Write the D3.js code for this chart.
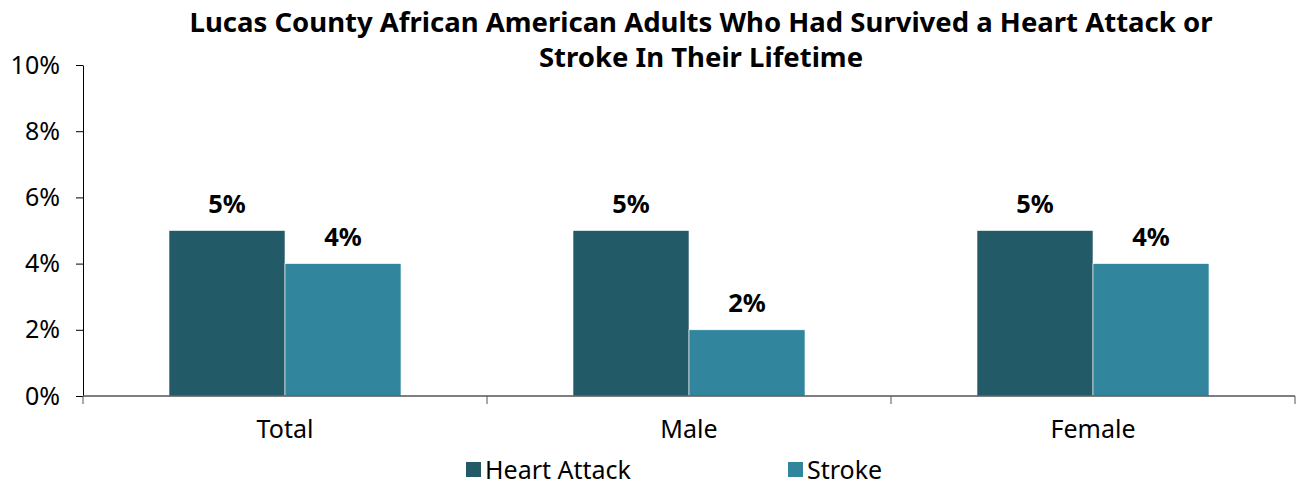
<!DOCTYPE html>
<html><head><meta charset="utf-8">
<script src="https://cdn.jsdelivr.net/npm/d3@7"></script>
<style>body{margin:0;background:#fff;} text{font-family:"Noto Sans","Open Sans",sans-serif;}</style>
</head><body><svg id="c" width="1296" height="485"></svg>
<script>
const categories = ["Total", "Male", "Female"];
const seriesNames = ["Heart Attack", "Stroke"];
const heartAttack = [5, 5, 5];
const stroke = [4, 2, 4];
const yTicks = [0, 2, 4, 6, 8, 10];
const titleLines = ["Lucas County African American Adults Who Had Survived a Heart Attack or", "Stroke In Their Lifetime"];
const colors = ["#235A68", "#31869E"];

const svg = d3.select("#c");
const m = {left: 83, right: 1295, top: 65, bottom: 396};
const x = d3.scaleBand().domain(categories).range([m.left, m.right]).paddingInner(0).paddingOuter(0);
const y = d3.scaleLinear().domain([0, 10]).range([m.bottom, m.top]);
const barW = 116;

svg.selectAll("text.title").data(titleLines).join("text")
  .attr("x", 701).attr("y", (d,i)=>32 + i*35).attr("text-anchor","middle")
  .attr("font-size", 27.5).attr("font-weight","bold").attr("fill","#000").text(d=>d);

const yAxis = svg.append("g").attr("transform",`translate(${m.left},0)`)
  .call(d3.axisLeft(y).tickValues(yTicks).tickFormat(d=>d+"%").tickSize(7).tickSizeOuter(0));
yAxis.select(".domain").attr("stroke","#000");
yAxis.selectAll(".tick line").attr("stroke","#000");
yAxis.selectAll(".tick text").attr("font-size",25).attr("fill","#000").attr("x",-23).attr("font-family","'Noto Sans',sans-serif");

const data = [heartAttack, stroke];
data.forEach((vals, s) => {
  svg.selectAll("rect.s"+s).data(vals).join("rect")
    .attr("x", (d,i)=> x(categories[i]) + x.bandwidth()/2 - barW + s*barW)
    .attr("y", d=>y(d)).attr("width", barW).attr("height", d=>y(0)-y(d))
    .attr("fill", colors[s]).attr("stroke","#ffffff").attr("stroke-width",0.6);
  svg.selectAll("text.l"+s).data(vals).join("text")
    .attr("x", (d,i)=> x(categories[i]) + x.bandwidth()/2 - barW/2 + s*barW)
    .attr("y", d=>y(d)-18).attr("text-anchor","middle")
    .attr("font-size",25.5).attr("font-weight","bold").attr("fill","#000").text(d=>d+"%");
});

// x axis
svg.append("line").attr("x1",m.left).attr("x2",m.right).attr("y1",y(0)).attr("y2",y(0)).attr("stroke","#555").attr("stroke-width",1.5);
const xb = [m.left, ...categories.map(c=>x(c)+x.bandwidth())];
svg.selectAll("line.xt").data(xb).join("line")
  .attr("x1",d=>d).attr("x2",d=>d).attr("y1",y(0)).attr("y2",y(0)+8).attr("stroke","#555");
svg.selectAll("text.xl").data(categories).join("text")
  .attr("x",d=>x(d)+x.bandwidth()/2).attr("y",438).attr("text-anchor","middle")
  .attr("font-size",25).attr("fill","#000").text(d=>d);

// legend
const lx = [466, 788];
seriesNames.forEach((n,i)=>{
  svg.append("rect").attr("x",lx[i]).attr("y",462).attr("width",15).attr("height",15).attr("fill",colors[i]);
  svg.append("text").attr("x",lx[i]+19).attr("y",479).attr("font-size",25).attr("fill","#000").text(n);
});
</script></body></html>
